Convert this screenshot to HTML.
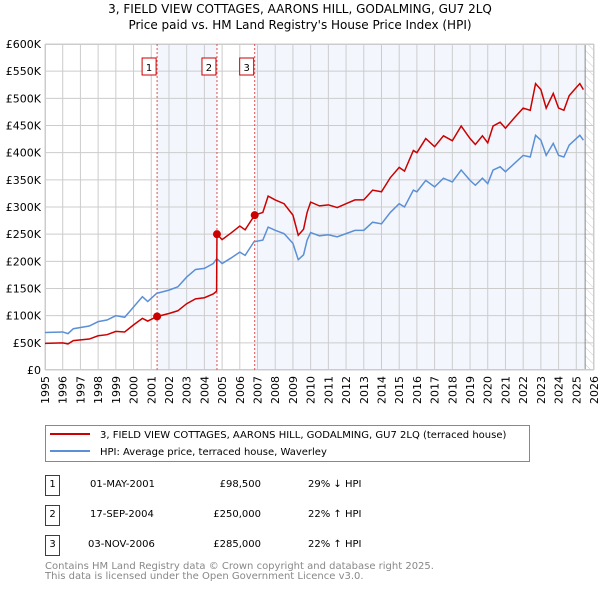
<!DOCTYPE html>
<html><head><meta charset="utf-8"><style>
body{margin:0;background:#fff;font-family:"DejaVu Sans","Liberation Sans",sans-serif;}
svg text{font-family:"DejaVu Sans","Liberation Sans",sans-serif;}
</style></head><body>
<svg id="c" width="600" height="590" xmlns="http://www.w3.org/2000/svg">
<defs><pattern id="hatch" width="6" height="6" patternUnits="userSpaceOnUse" patternTransform="rotate(-45)"><line x1="0" y1="0" x2="0" y2="6" stroke="#ccc" stroke-width="1"/></pattern></defs>
<text x="300" y="13" text-anchor="middle" font-size="12">3, FIELD VIEW COTTAGES, AARONS HILL, GODALMING, GU7 2LQ</text>
<text x="300" y="29" text-anchor="middle" font-size="12">Price paid vs. HM Land Registry's House Price Index (HPI)</text>
<g id="plot"></g>
<g>
<rect x="45.5" y="425.5" width="484" height="36" fill="#fff" stroke="#888"/>
<line x1="50" y1="434" x2="90" y2="434" stroke="#cc0000" stroke-width="2"/>
<text x="100" y="438" font-size="10">3, FIELD VIEW COTTAGES, AARONS HILL, GODALMING, GU7 2LQ (terraced house)</text>
<line x1="50" y1="451" x2="90" y2="451" stroke="#5b8fd6" stroke-width="2"/>
<text x="100" y="455" font-size="10">HPI: Average price, terraced house, Waverley</text>
</g>
<g font-size="10">
<rect x="45.5" y="475.5" width="14" height="20" fill="#fff" stroke="#cc0000"/><text x="52.5" y="487" text-anchor="middle">1</text>
<text x="90" y="487">01-MAY-2001</text><text x="261" y="487" text-anchor="end">£98,500</text><text x="308" y="487">29% ↓ HPI</text>
<rect x="45.5" y="505.5" width="14" height="20" fill="#fff" stroke="#cc0000"/><text x="52.5" y="517" text-anchor="middle">2</text>
<text x="90" y="517">17-SEP-2004</text><text x="261" y="517" text-anchor="end">£250,000</text><text x="308" y="517">22% ↑ HPI</text>
<rect x="45.5" y="535.5" width="14" height="20" fill="#fff" stroke="#cc0000"/><text x="52.5" y="547" text-anchor="middle">3</text>
<text x="88" y="547">03-NOV-2006</text><text x="261" y="547" text-anchor="end">£285,000</text><text x="308" y="547">22% ↑ HPI</text>
</g>
<text x="45" y="569" font-size="10" fill="#888">Contains HM Land Registry data © Crown copyright and database right 2025.</text>
<text x="45" y="579" font-size="10" fill="#888">This data is licensed under the Open Government Licence v3.0.</text>
</svg>
<script>
const hpiYears=[1995,1996,1996.3,1996.6,1997.5,1998,1998.5,1999,1999.5,2000,2000.5,2000.8,2001.3,2002,2002.5,2003,2003.5,2004,2004.5,2004.7,2005,2005.5,2006,2006.3,2006.8,2007.3,2007.6,2008,2008.5,2009,2009.3,2009.6,2009.8,2010,2010.5,2011,2011.5,2012,2012.5,2013,2013.5,2014,2014.5,2015,2015.3,2015.8,2016,2016.5,2017,2017.5,2018,2018.5,2019,2019.3,2019.7,2020,2020.3,2020.7,2021,2021.5,2022,2022.4,2022.7,2023,2023.3,2023.7,2024,2024.3,2024.6,2025,2025.2,2025.4];
const hpiValues=[69,70,67,76,81,89,92,100,97,116,135,126,141,147,153,171,185,187,196,205,196,206,217,211,236,239,263,257,251,233,203,212,239,253,247,249,245,251,257,257,272,269,290,306,300,331,328,349,337,353,346,368,349,340,353,343,368,374,365,380,395,392,432,423,395,417,395,392,414,426,432,423];
const priceYears=[1995,1996,1996.3,1996.6,1997.5,1998,1998.5,1999,1999.5,2000,2000.5,2000.8,2001.33,2002,2002.5,2003,2003.5,2004,2004.5,2004.69,2004.71,2005,2005.5,2006,2006.3,2006.84,2007.3,2007.6,2008,2008.5,2009,2009.3,2009.6,2009.8,2010,2010.5,2011,2011.5,2012,2012.5,2013,2013.5,2014,2014.5,2015,2015.3,2015.8,2016,2016.5,2017,2017.5,2018,2018.5,2019,2019.3,2019.7,2020,2020.3,2020.7,2021,2021.5,2022,2022.4,2022.7,2023,2023.3,2023.7,2024,2024.3,2024.6,2025,2025.2,2025.4];
const priceValues=[49,50,48,54,57,63,65,71,70,83,95,90,98.5,104,109,122,131,133,140,145,250,240,252,265,258,285,290,320,313,306,285,248,259,290,309,302,304,299,306,313,313,331,328,354,373,366,404,400,426,411,431,422,449,426,415,431,418,449,456,445,464,482,478,527,516,482,509,482,478,505,520,527,516];
const saleLabels=["1","2","3"];
const saleYears=[2001.33,2004.71,2006.84];
const saleValues=[98.5,250,285];
const yTicks=[0,50,100,150,200,250,300,350,400,450,500,550,600];
const yTickLabels=["£0","£50K","£100K","£150K","£200K","£250K","£300K","£350K","£400K","£450K","£500K","£550K","£600K"];
const xTicks=[1995,1996,1997,1998,1999,2000,2001,2002,2003,2004,2005,2006,2007,2008,2009,2010,2011,2012,2013,2014,2015,2016,2017,2018,2019,2020,2021,2022,2023,2024,2025,2026];

const L=45,R=594,T=44,B=370,x0=1995,x1=2026,yMax=600,dataEnd=2025.5;
const X=y=>L+(y-x0)/(x1-x0)*(R-L);
const Y=v=>B-v/yMax*(B-T);
const NS="http://www.w3.org/2000/svg";
const g=document.getElementById('plot');
function mk(tag,attrs,parent){const e=document.createElementNS(NS,tag);for(const k in attrs)e.setAttribute(k,attrs[k]);(parent||g).appendChild(e);return e;}
mk('rect',{x:L,y:T,width:R-L,height:B-T,fill:'#fff'});
let s=mk('rect',{x:X(saleYears[0]),y:T,width:X(saleYears[1])-X(saleYears[0]),height:B-T,fill:'#eef3fc',opacity:0.7});


s=mk('rect',{x:X(saleYears[2]),y:T,width:X(dataEnd)-X(saleYears[2]),height:B-T,fill:'#eef3fc',opacity:0.7});


s=mk('rect',{x:X(dataEnd),y:T,width:R-X(dataEnd),height:B-T,fill:'url(#hatch)'});


yTicks.forEach((v,i)=>{
 mk('line',{x1:L,x2:R,y1:Y(v),y2:Y(v),stroke:'#ccc','stroke-width':1});
 const t=mk('text',{x:L-4,y:Y(v)+4,'text-anchor':'end','font-size':11});t.textContent=yTickLabels[i];
 
 
});
xTicks.forEach(v=>{
 mk('line',{x1:X(v),x2:X(v),y1:T,y2:B,stroke:'#ccc','stroke-width':1});
 const t=mk('text',{x:0,y:0,'text-anchor':'end','font-size':11,transform:`translate(${X(v)+4},${B+6}) rotate(-90)`});t.textContent=v;
 
 
});
mk('line',{x1:X(dataEnd),x2:X(dataEnd),y1:T,y2:B,stroke:'#888','stroke-width':1});
mk('rect',{x:L+0.5,y:T+0.5,width:R-L-1,height:B-T-1,fill:'none',stroke:'#ccc'});
saleYears.forEach((yr,i)=>{
 const l=mk('line',{x1:X(yr),x2:X(yr),y1:T,y2:B,stroke:'#e05050','stroke-width':1,'stroke-dasharray':'2,2'});
 
 
 const bx=X(yr)-3-12;
 const r=mk('rect',{x:bx,y:58,width:14,height:17,fill:'#fff',stroke:'#cc0000'});
 
 
 const t=mk('text',{x:bx+7,y:71,'text-anchor':'middle','font-size':10});t.textContent=saleLabels[i];
});
const hp=mk('polyline',{points:hpiYears.map((y,i)=>X(y)+','+Y(hpiValues[i])).join(' '),fill:'none',stroke:'#5b8fd6','stroke-width':1.5});


const pp=mk('polyline',{points:priceYears.map((y,i)=>X(y)+','+Y(priceValues[i])).join(' '),fill:'none',stroke:'#cc0000','stroke-width':1.5});


saleYears.forEach((yr,i)=>{
 const c=mk('circle',{cx:X(yr),cy:Y(saleValues[i]),r:4,fill:'#cc0000'});
 
 
});
</script>
</body></html>
